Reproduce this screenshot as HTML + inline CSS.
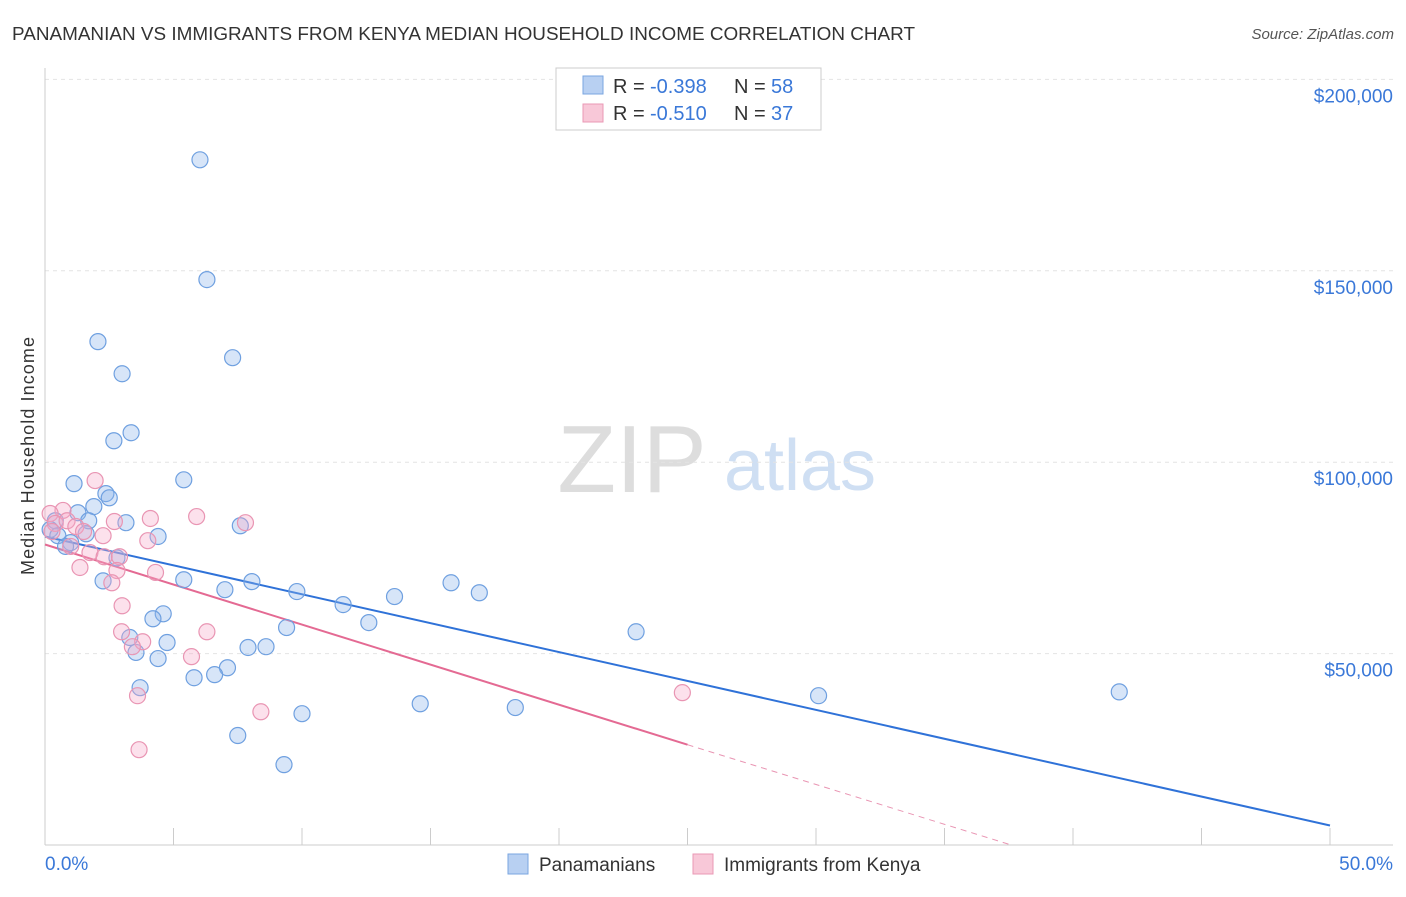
<!DOCTYPE html>
<html><head><meta charset="utf-8"><style>
body{margin:0;background:#fff;font-family:"Liberation Sans",sans-serif}
svg text{font-family:"Liberation Sans",sans-serif}
</style></head><body>
<svg id="chart" width="1406" height="892">
<text x="12" y="40" font-size="18" fill="#333" textLength="903" lengthAdjust="spacingAndGlyphs">PANAMANIAN VS IMMIGRANTS FROM KENYA MEDIAN HOUSEHOLD INCOME CORRELATION CHART</text>
<text x="1394" y="39" font-size="15" fill="#555" font-style="italic" text-anchor="end">Source: ZipAtlas.com</text>
<text x="34" y="456" font-size="18" fill="#333" text-anchor="middle" transform="rotate(-90 34 456)" textLength="238">Median Household Income</text>
<text x="632" y="492" font-size="96" fill="#ddd" font-family="Liberation Serif" text-anchor="middle">ZIP</text>
<text x="800" y="490" font-size="72" fill="#cfdff3" text-anchor="middle">atlas</text>
<g id="grid"></g><g id="axes"></g><g id="lines"></g><g id="pts"></g>
<g>
<rect x="556" y="68" width="265" height="62" fill="#fff" stroke="#ccc"/>
<rect x="583" y="76" width="20" height="18" fill="#b8d0f2" stroke="#7aa6e0"/>
<text x="613" y="93" font-size="20" fill="#333">R =</text>
<text x="650" y="93" font-size="20" fill="#3a78d8">-0.398</text>
<text x="734" y="93" font-size="20" fill="#333">N =</text>
<text x="771" y="93" font-size="20" fill="#3a78d8">58</text>
<rect x="583" y="104" width="20" height="18" fill="#f8c8d8" stroke="#ea98b5"/>
<text x="613" y="120" font-size="20" fill="#333">R =</text>
<text x="650" y="120" font-size="20" fill="#3a78d8">-0.510</text>
<text x="734" y="120" font-size="20" fill="#333">N =</text>
<text x="771" y="120" font-size="20" fill="#3a78d8">37</text>
</g>
<g>
<rect x="508" y="854" width="20" height="20" fill="#b8d0f2" stroke="#7aa6e0"/>
<text x="539" y="871" font-size="19" fill="#333">Panamanians</text>
<rect x="693" y="854" width="20" height="20" fill="#f8c8d8" stroke="#ea98b5"/>
<text x="724" y="871" font-size="19" fill="#333">Immigrants from Kenya</text>
</g>
<text x="45" y="870" font-size="19" fill="#3a78d8">0.0%</text>
<text x="1393" y="870" font-size="19" fill="#3a78d8" text-anchor="end">50.0%</text>
</svg>
<script>
const yTicks=[50000,100000,150000,200000];
const yTickLabels=["$50,000","$100,000","$150,000","$200,000"];
const blueX=[6.03,6.3,2.06,7.3,3.0,3.35,2.68,5.4,1.13,2.37,2.5,1.9,1.28,1.7,3.15,7.6,0.4,0.2,0.5,1.6,4.4,1.0,0.8,2.8,2.26,5.4,8.05,7.0,9.8,15.8,16.9,13.6,11.6,4.6,4.2,12.6,9.4,23.0,3.3,4.75,8.6,7.9,3.54,4.4,7.1,6.6,5.8,3.7,30.1,41.8,14.6,18.3,10.0,7.5,9.3];
const blueY=[179000,147700,131500,127300,123100,107700,105600,95400,94400,91800,90700,88400,86800,84700,84200,83400,84700,82400,80800,81300,80600,79000,78000,75000,69000,69300,68800,66700,66200,68500,65900,64900,62800,60400,59100,58100,56800,55700,54200,52900,51800,51600,50300,48700,46300,44500,43700,41100,39000,40000,36900,35900,34300,28600,21000];
const pinkX=[1.95,0.7,0.2,5.9,4.1,7.8,2.7,0.4,0.86,1.2,0.27,1.5,2.26,4.0,1.0,1.75,2.3,2.9,1.36,2.8,4.3,2.6,3.0,2.98,6.3,3.8,3.4,5.7,24.8,3.6,8.4,3.66];
const pinkY=[95200,87400,86600,85800,85300,84200,84500,84000,84700,83200,81900,81900,80800,79500,78000,76400,75300,75300,72500,71700,71200,68500,62500,55700,55700,53100,51800,49200,39800,39000,34800,24900];
const blueTrend=[80600,5100];
const pinkTrend=[78500,26200];
const pinkZeroX=37.6;
const xs=p=>45+p*25.7, ys=v=>845-v*191.4/50000;
const NS="http://www.w3.org/2000/svg";
function mk(g,t,a){const e=document.createElementNS(NS,t);for(const k in a)e.setAttribute(k,a[k]);document.getElementById(g).appendChild(e);return e;}
yTicks.forEach((v,i)=>{
 const l=mk('grid','line',{x1:45,x2:1393,y1:ys(v),y2:ys(v),stroke:'#e4e4e4','stroke-dasharray':'4 4'});
 
 
 const t=mk('grid','text',{x:1393,y:ys(v)+23,'font-size':19,fill:'#3a78d8','text-anchor':'end'});
 t.textContent=yTickLabels[i];
 
 
});
const ax=mk('axes','line',{x1:45,x2:1393,y1:845,y2:845,stroke:'#ccc'});


const ay=mk('axes','line',{x1:45,x2:45,y1:68,y2:845,stroke:'#ccc'});


for(let i=0;i<=10;i++){const t=mk('axes','line',{x1:xs(i*5),x2:xs(i*5),y1:828,y2:845,stroke:'#ccc'});
 
 }
blueX.forEach((x,i)=>{const c=mk('pts','circle',{cx:xs(x),cy:ys(blueY[i]),r:8,fill:'rgba(140,180,235,0.35)',stroke:'#6fa0e0','stroke-width':1.2});
 
 });
pinkX.forEach((x,i)=>{const c=mk('pts','circle',{cx:xs(x),cy:ys(pinkY[i]),r:8,fill:'rgba(245,170,200,0.35)',stroke:'#e995b3','stroke-width':1.2});
 
 });
const bl=mk('lines','line',{x1:xs(0),y1:ys(blueTrend[0]),x2:xs(50),y2:ys(blueTrend[1]),stroke:'#2f72d8','stroke-width':2});


const pl=mk('lines','line',{x1:xs(0),y1:ys(pinkTrend[0]),x2:xs(25),y2:ys(pinkTrend[1]),stroke:'#e46a93','stroke-width':2});


const pd=mk('lines','line',{x1:xs(25),y1:ys(pinkTrend[1]),x2:xs(pinkZeroX),y2:ys(0),stroke:'#e995b3','stroke-width':1,'stroke-dasharray':'6 5'});


</script>
</body></html>
